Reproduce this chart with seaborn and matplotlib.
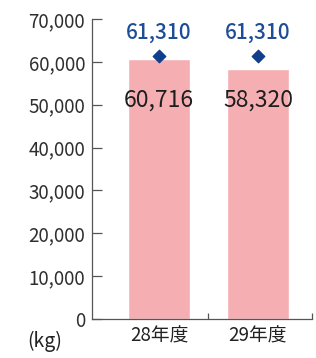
import matplotlib
matplotlib.use("Agg")
import matplotlib.pyplot as plt
import seaborn as sns
import pandas as pd

# data
years = ["28年度", "29年度"]
actual = [60716, 58320]
target = [61310, 61310]
yticks = [0, 10000, 20000, 30000, 40000, 50000, 60000, 70000]

sns.set_theme(style="white")
plt.rcParams['font.family'] = ['Noto Sans CJK JP', 'DejaVu Sans']

df = pd.DataFrame({"year": years, "actual": actual, "target": target})

fig = plt.figure(figsize=(3.16, 3.58), dpi=100)
ax = fig.add_axes([0.291, 0.109, 0.696, 0.838])

sns.barplot(data=df, x="year", y="actual", color="#f5afb3", width=0.63,
            saturation=1, ax=ax)

# target markers
xs = list(range(len(years)))
ax.scatter(xs, df["target"], marker="D", s=40, color="#123f8c", zorder=3)

for i, (a, t) in enumerate(zip(actual, target)):
    ax.text(i, 66700, f"{t:,}", ha="center", va="center", fontsize=15,
            color="#1d4d96", fontweight="medium")
    ax.text(i, 51000, f"{a:,}", ha="center", va="center", fontsize=16.5,
            color="#1e1e1e")

ax.set_ylim(0, 70000)
ax.set_xlim(-0.677, 1.545)
ax.set_yticks(yticks)
ax.set_yticklabels([f"{v:,}" for v in yticks], fontsize=13.5, color="#2e2e2e")
ax.set_xticks(xs)
ax.set_xticklabels(years, fontsize=13.5, color="#222222")
ax.tick_params(axis="x", length=0, pad=5)
ax.tick_params(axis="y", left=True, direction="in", length=7, width=0.9,
               color="#555555", pad=5)
ax.set_xticks([0.5, 1.545], minor=True)
ax.tick_params(axis="x", which="minor", bottom=True, direction="in",
               length=4, width=0.9, color="#555555")

for side in ["top", "right"]:
    ax.spines[side].set_visible(False)
for side in ["left", "bottom"]:
    ax.spines[side].set_color("#555555")
    ax.spines[side].set_linewidth(0.9)

ax.set_xlabel("")
ax.set_ylabel("")
fig.text(45 / 316, 1 - 341 / 358, "(kg)", ha="center", va="center",
         fontsize=14, color="#222222")

fig.savefig("out.png", dpi=100)
plt.close(fig)
